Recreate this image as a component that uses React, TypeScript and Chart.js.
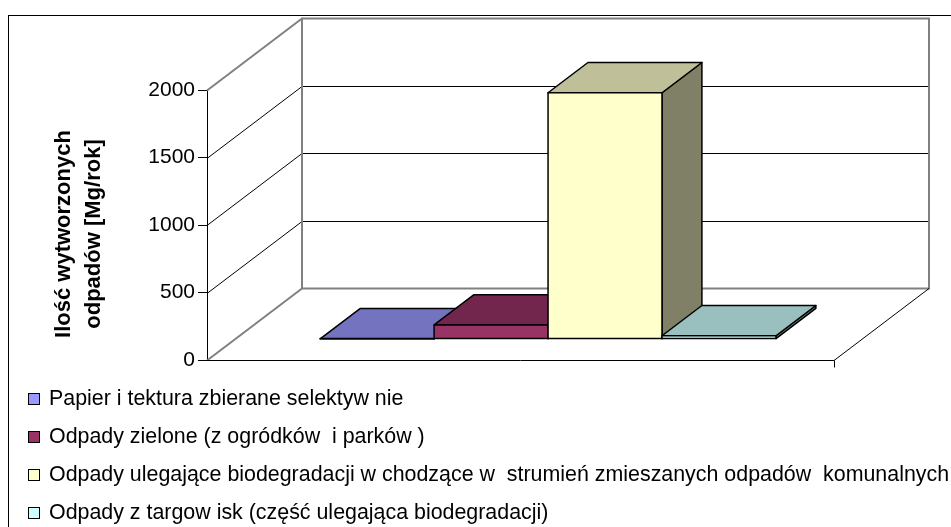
import React, { useEffect, useRef } from 'react';
import { Chart, registerables } from 'chart.js';

Chart.register(...registerables);

// ---- data ----
const categories = [''];
const seriesLabels = [
  'Papier i tektura zbierane selektyw nie',
  'Odpady zielone (z ogródków  i parków )',
  'Odpady ulegające biodegradacji w chodzące w  strumień zmieszanych odpadów  komunalnych',
  'Odpady z targow isk (część ulegająca biodegradacji)',
];
const seriesValues = [2, 105, 1825, 25];
const yTicks = [0, 500, 1000, 1500, 2000];
const axisTitle = ['Ilość wytworzonych', 'odpadów [Mg/rok]'];

// ---- styles ----
const frontColors = ['#9999FF', '#993366', '#FFFFCC', '#CCFFFF'];
const topColors = ['#7373BF', '#73264D', '#BFBF99', '#99BFBF'];
const sideColors = ['#4D4D80', '#4D1A33', '#808066', '#668080'];
const FONT = '"Liberation Sans", Arial, sans-serif';
const DEPTH_X = 95;
const DEPTH_Y = -72;
const BAR_FRONT = 0.29;
const BAR_DEPTH = 0.42;

const pseudo3d = {
  id: 'pseudo3d',
  beforeDatasetsDraw(chart: any) {
    const { ctx, chartArea: a, scales } = chart;
    const y = scales.y;
    ctx.save();
    // outer frame
    ctx.strokeStyle = '#000';
    ctx.lineWidth = 1;
    ctx.strokeRect(8.5, 15.5, 1200, 1200);

    // back wall grid lines + left wall diagonals
    yTicks.forEach((v) => {
      const py = Math.round(y.getPixelForValue(v)) + 0.5;
      const edge = v === yTicks[0] || v === yTicks[yTicks.length - 1];
      ctx.beginPath();
      ctx.moveTo(a.left, py);
      ctx.lineTo(a.left + DEPTH_X, py + DEPTH_Y);
      if (!edge) ctx.lineTo(a.right + DEPTH_X, py + DEPTH_Y);
      ctx.strokeStyle = edge ? '#808080' : '#000';
      ctx.lineWidth = edge ? 2 : 1;
      ctx.stroke();
    });
    // back wall rectangle
    const top = Math.round(y.getPixelForValue(yTicks[yTicks.length - 1])) + 0.5;
    const bot = Math.round(y.getPixelForValue(yTicks[0])) + 0.5;
    ctx.strokeStyle = '#808080';
    ctx.lineWidth = 2;
    ctx.strokeRect(a.left + DEPTH_X, top + DEPTH_Y, a.right - a.left, bot - top);
    // floor front edge and right diagonal
    ctx.strokeStyle = '#000';
    ctx.lineWidth = 1;
    ctx.beginPath();
    ctx.moveTo(a.left, bot);
    ctx.lineTo(a.right, bot);
    ctx.lineTo(a.right + DEPTH_X, bot + DEPTH_Y);
    ctx.moveTo(Math.round(a.right) + 0.5, bot);
    ctx.lineTo(Math.round(a.right) + 0.5, bot + 7);
    ctx.stroke();

    // 3D bars
    const ox = DEPTH_X * BAR_FRONT, oy = DEPTH_Y * BAR_FRONT;
    const dx = DEPTH_X * BAR_DEPTH, dy = DEPTH_Y * BAR_DEPTH;
    ctx.lineWidth = 1.5;
    ctx.lineJoin = 'round';
    ctx.strokeStyle = '#000';
    chart.data.datasets.forEach((_: any, i: number) => {
      const meta = chart.getDatasetMeta(i);
      meta.data.forEach((el: any) => {
        const L = el.x - el.width / 2 + ox;
        const R = el.x + el.width / 2 + ox;
        const T = el.y + oy;
        const B = el.base + oy;
        const poly = (pts: number[][], fill: string) => {
          ctx.beginPath();
          ctx.moveTo(pts[0][0], pts[0][1]);
          for (let k = 1; k < pts.length; k++) ctx.lineTo(pts[k][0], pts[k][1]);
          ctx.closePath();
          ctx.fillStyle = fill;
          ctx.fill();
          ctx.stroke();
        };
        poly([[R, T], [R + dx, T + dy], [R + dx, B + dy], [R, B]], sideColors[i]);
        poly([[L, T], [R, T], [R + dx, T + dy], [L + dx, T + dy]], topColors[i]);
        poly([[L, T], [R, T], [R, B], [L, B]], frontColors[i]);
      });
    });
    ctx.restore();
    return false;
  },
  afterDraw(chart: any) {
    const { ctx } = chart;
    ctx.save();
    // axis title
    ctx.translate(64, 234);
    ctx.rotate(-Math.PI / 2);
    ctx.font = `bold 22px ${FONT}`;
    ctx.fillStyle = '#000';
    ctx.textAlign = 'center';
    ctx.textBaseline = 'middle';
    ctx.fillText(axisTitle[0], 0, 0);
    ctx.fillText(axisTitle[1], 0, 30);
    ctx.restore();

    // legend
    ctx.save();
    ctx.font = `21.4px ${FONT}`;
    ctx.textAlign = 'left';
    ctx.textBaseline = 'middle';
    chart.data.datasets.forEach((ds: any, i: number) => {
      const cy = 399 + i * 38;
      ctx.fillStyle = frontColors[i];
      ctx.fillRect(28.5, cy - 5.5, 11, 11);
      ctx.strokeStyle = '#000';
      ctx.lineWidth = 1;
      ctx.strokeRect(28.5, cy - 5.5, 11, 11);
      ctx.fillStyle = '#000';
      ctx.fillText(ds.label, 49, cy);
    });
    ctx.restore();
  },
};

export default function App() {
  const ref = useRef<HTMLCanvasElement>(null);
  useEffect(() => {
    const chart = new Chart(ref.current as HTMLCanvasElement, {
      type: 'bar',
      data: {
        labels: categories,
        datasets: seriesLabels.map((label, i) => ({
          label,
          data: [seriesValues[i]],
          backgroundColor: frontColors[i],
        })),
      },
      options: {
        animation: false,
        responsive: false,
        devicePixelRatio: 1,
        layout: { padding: { left: 0, top: 90, right: 117, bottom: 167 } },
        datasets: { bar: { categoryPercentage: 0.727, barPercentage: 1 } },
        plugins: { legend: { display: false }, tooltip: { enabled: false } },
        scales: {
          x: { display: false },
          y: {
            min: yTicks[0],
            max: yTicks[yTicks.length - 1],
            afterBuildTicks: (s: any) => {
              s.ticks = yTicks.map((v) => ({ value: v }));
            },
            afterFit: (s: any) => {
              s.width = 207;
            },
            ticks: {
              color: '#000',
              padding: 3,
              font: { family: FONT, size: 21 },
              callback: (v: any) => String(v),
            },
            grid: { drawOnChartArea: false, tickLength: 9, color: '#000', lineWidth: 1 },
            border: { color: '#000', width: 1 },
          },
        },
      } as any,
      plugins: [pseudo3d],
    });
    return () => chart.destroy();
  }, []);
  return (
    <div style={{ position: 'fixed', left: 0, top: 0, width: 951, height: 527, background: '#fff', overflow: 'hidden' }}>
      <canvas ref={ref} width={951} height={527} style={{ display: 'block', width: 951, height: 527 }} />
    </div>
  );
}
